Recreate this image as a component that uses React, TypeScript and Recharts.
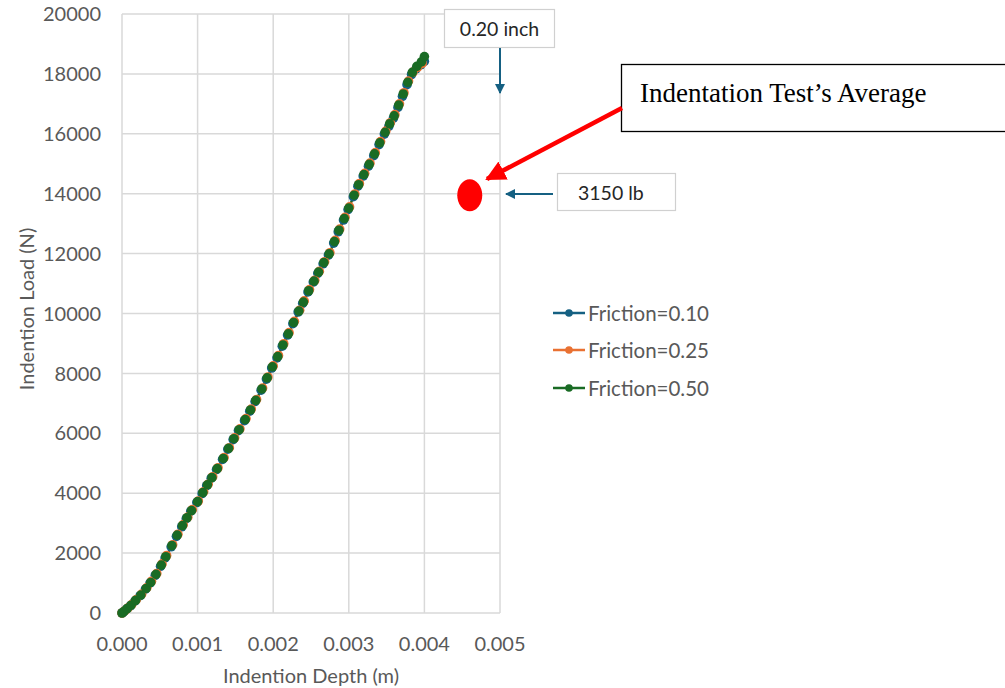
import { ComposedChart, Line, Scatter, XAxis, YAxis, CartesianGrid, Legend } from 'recharts'

// depth (m), load (N)
const friction010 = [
  [0, 0], [0.00002, 40], [0.00006, 130], [0.00011, 240], [0.00017, 400], [0.00024, 580], [0.00031, 800],
  [0.00037, 1000], [0.00044, 1260], [0.00051, 1560], [0.00057, 1840], [0.00065, 2210], [0.00072, 2560],
  [0.00079, 2880], [0.00085, 3150], [0.00091, 3400], [0.00099, 3690], [0.00106, 3990], [0.00112, 4250],
  [0.00118, 4500], [0.00125, 4790], [0.00133, 5130], [0.0014, 5470], [0.00147, 5790], [0.00154, 6090],
  [0.00162, 6420], [0.00169, 6740], [0.00176, 7060], [0.00184, 7440], [0.00191, 7810], [0.00198, 8180],
  [0.00205, 8520], [0.00212, 8910], [0.00219, 9280], [0.00226, 9660], [0.00233, 10050], [0.00239, 10340],
  [0.00246, 10720], [0.00253, 11050], [0.00259, 11340], [0.00266, 11660], [0.00273, 11950], [0.0028, 12350],
  [0.00286, 12730], [0.00293, 13120], [0.00299, 13470], [0.00306, 13900], [0.00312, 14250], [0.00319, 14590],
  [0.00326, 14920], [0.00333, 15270], [0.0034, 15640], [0.00347, 15990], [0.00353, 16250], [0.00359, 16520],
  [0.00365, 16880], [0.00371, 17250], [0.00377, 17640], [0.00383, 17980], [0.00389, 18170], [0.00395, 18300],
  [0.004, 18420],
]

const friction025 = [
  [0, 0], [0.00004, 80], [0.00008, 170], [0.00013, 290], [0.00019, 450], [0.00026, 630], [0.00033, 850],
  [0.00039, 1060], [0.00046, 1320], [0.00053, 1640], [0.00059, 1920], [0.00067, 2280], [0.00074, 2630],
  [0.00081, 2950], [0.00087, 3200], [0.00093, 3450], [0.00101, 3740], [0.00108, 4050], [0.00114, 4300],
  [0.0012, 4550], [0.00127, 4850], [0.00135, 5190], [0.00142, 5520], [0.00149, 5850], [0.00156, 6150],
  [0.00164, 6490], [0.00171, 6810], [0.00178, 7130], [0.00186, 7510], [0.00193, 7880], [0.002, 8250],
  [0.00207, 8600], [0.00214, 8990], [0.00221, 9360], [0.00228, 9740], [0.00235, 10110], [0.00241, 10420],
  [0.00248, 10800], [0.00255, 11110], [0.00261, 11410], [0.00268, 11730], [0.00275, 12030], [0.00282, 12440],
  [0.00288, 12820], [0.00295, 13210], [0.00301, 13560], [0.00308, 13990], [0.00314, 14340], [0.00321, 14680],
  [0.00328, 15020], [0.00335, 15370], [0.00342, 15740], [0.00349, 16090], [0.00355, 16370], [0.00361, 16640],
  [0.00367, 17000], [0.00373, 17370], [0.00379, 17760], [0.00385, 18060], [0.00391, 18220], [0.00397, 18350],
]

const friction050 = [
  [0, 0], [0.00003, 60], [0.00007, 150], [0.00012, 260], [0.00018, 420], [0.00025, 600], [0.00032, 820],
  [0.00038, 1020], [0.00045, 1290], [0.00052, 1600], [0.00058, 1880], [0.00066, 2250], [0.00073, 2600],
  [0.0008, 2920], [0.00086, 3180], [0.00092, 3420], [0.001, 3720], [0.00107, 4020], [0.00113, 4280],
  [0.00119, 4520], [0.00126, 4820], [0.00134, 5160], [0.00141, 5500], [0.00148, 5820], [0.00155, 6120],
  [0.00163, 6460], [0.0017, 6780], [0.00177, 7100], [0.00185, 7480], [0.00192, 7850], [0.00199, 8220],
  [0.00206, 8560], [0.00213, 8950], [0.0022, 9320], [0.00227, 9700], [0.00234, 10080], [0.0024, 10380],
  [0.00247, 10760], [0.00254, 11080], [0.0026, 11380], [0.00267, 11700], [0.00274, 11990], [0.00281, 12400],
  [0.00287, 12780], [0.00294, 13170], [0.003, 13520], [0.00307, 13950], [0.00313, 14300], [0.0032, 14640],
  [0.00327, 14980], [0.00334, 15330], [0.00341, 15700], [0.00348, 16050], [0.00354, 16330], [0.0036, 16600],
  [0.00366, 16960], [0.00372, 17330], [0.00378, 17720], [0.00384, 18050], [0.0039, 18250], [0.00396, 18400],
  [0.004, 18580],
]

// indentation test average (3150 lb)
const testAverage = [[0.0046, 13950]]

const xTicks = [0, 0.001, 0.002, 0.003, 0.004, 0.005]
const yTicks = [0, 2000, 4000, 6000, 8000, 10000, 12000, 14000, 16000, 18000, 20000]

const series = [
  { name: 'Friction=0.10', color: '#156082', points: friction010 },
  { name: 'Friction=0.25', color: '#E97132', points: friction025 },
  { name: 'Friction=0.50', color: '#196B24', points: friction050 },
]

const toRows = (pts: number[][]) => pts.map(([depth, load]) => ({ depth, load }))

const axisText = { fontSize: 20, fill: '#595959' }
const blue = '#156082'

const LegendBox = () => (
  <div>
    {series.map((s) => (
      <div key={s.name} style={{ display: 'flex', alignItems: 'center', height: 37.5 }}>
        <svg width={35} height={20}>
          <line x1={0} y1={10} x2={32} y2={10} stroke={s.color} strokeWidth={2.5} />
          <circle cx={16} cy={10} r={3.8} fill={s.color} />
        </svg>
        <span style={{ fontSize: 20.5, color: '#595959', lineHeight: '20px' }}>{s.name}</span>
      </div>
    ))}
  </div>
)

export default function App() {
  return (
    <div style={{ position: 'absolute', left: 0, top: 0, width: 1005, height: 688, fontFamily: 'Lato, sans-serif', background: '#fff' }}>
      <ComposedChart width={1005} height={688} margin={{ top: 14, right: 505, bottom: 45, left: 0 }}>
        <CartesianGrid stroke="#d9d9d9" strokeWidth={1.5} />
        <XAxis
          type="number"
          dataKey="depth"
          domain={[0, 0.005]}
          ticks={xTicks}
          interval={0}
          tickFormatter={(v: number) => v.toFixed(3)}
          axisLine={false}
          tickLine={false}
          tickSize={0}
          tickMargin={24}
          height={30}
          tick={axisText}
        />
        <YAxis
          type="number"
          dataKey="load"
          domain={[0, 20000]}
          ticks={yTicks}
          interval={0}
          axisLine={false}
          tickLine={false}
          tickSize={0}
          tickMargin={21}
          width={122}
          tick={axisText}
        />
        {series.map((s) => (
          <Line
            key={s.name}
            data={toRows(s.points)}
            dataKey="load"
            name={s.name}
            type="linear"
            stroke={s.color}
            strokeWidth={2}
            dot={{ r: 4.8, fill: s.color, stroke: s.color, strokeWidth: 0 }}
            activeDot={false}
            isAnimationActive={false}
          />
        ))}
        <Scatter
          data={toRows(testAverage)}
          dataKey="load"
          fill="#ff0000"
          isAnimationActive={false}
          shape={(p: any) => <ellipse cx={p.cx} cy={p.cy} rx={12.5} ry={16} fill="#ff0000" />}
        />
        <Legend
          layout="vertical"
          align="center"
          verticalAlign="middle"
          content={() => <LegendBox />}
          wrapperStyle={{ left: 553, top: 294, width: 200, height: 115 }}
        />
      </ComposedChart>

      <svg width={1005} height={688} style={{ position: 'absolute', left: 0, top: 0, pointerEvents: 'none' }}>
        <defs>
          <marker id="blueHead" viewBox="0 0 10 10" refX="9" refY="5" markerWidth="5" markerHeight="5" orient="auto">
            <path d="M0,0 L10,5 L0,10 z" fill={blue} />
          </marker>
          <marker id="redHead" viewBox="0 0 10 10" refX="9" refY="5" markerWidth="4.5" markerHeight="4.5" orient="auto">
            <path d="M0,0 L10,5 L0,10 z" fill="#ff0000" />
          </marker>
        </defs>

        <text x={26} y={309} transform="rotate(-90 26 309)" textAnchor="middle" dominantBaseline="central" fontSize={20} fill="#595959">
          Indention Load (N)
        </text>
        <text x={311} y={683} textAnchor="middle" fontSize={20} fill="#595959">
          Indention Depth (m)
        </text>

        <rect x={444.5} y={9.5} width={110} height={38} fill="#fff" stroke="#d0d0d0" strokeWidth={1.2} />
        <text x={499.5} y={36} textAnchor="middle" fontSize={19.5} fill="#262626">0.20 inch</text>
        <line x1={500} y1={48} x2={500} y2={93} stroke={blue} strokeWidth={2} markerEnd="url(#blueHead)" />

        <rect x={557.5} y={173.5} width={118} height={37} fill="#fff" stroke="#d0d0d0" strokeWidth={1.2} />
        <text x={578} y={199.5} fontSize={19.5} fill="#262626">3150 lb</text>
        <line x1={553} y1={194} x2={506} y2={194} stroke={blue} strokeWidth={2} markerEnd="url(#blueHead)" />

        <rect x={621.5} y={64.5} width={390} height={67} fill="#fff" stroke="#000" strokeWidth={1.3} />
        <text x={640} y={102} fontSize={27} fill="#000" fontFamily="'Liberation Serif', 'Times New Roman', serif">
          Indentation Test’s Average
        </text>
        <line x1={622} y1={108} x2={487} y2={179} stroke="#ff0000" strokeWidth={4.5} markerEnd="url(#redHead)" />
      </svg>
    </div>
  )
}
